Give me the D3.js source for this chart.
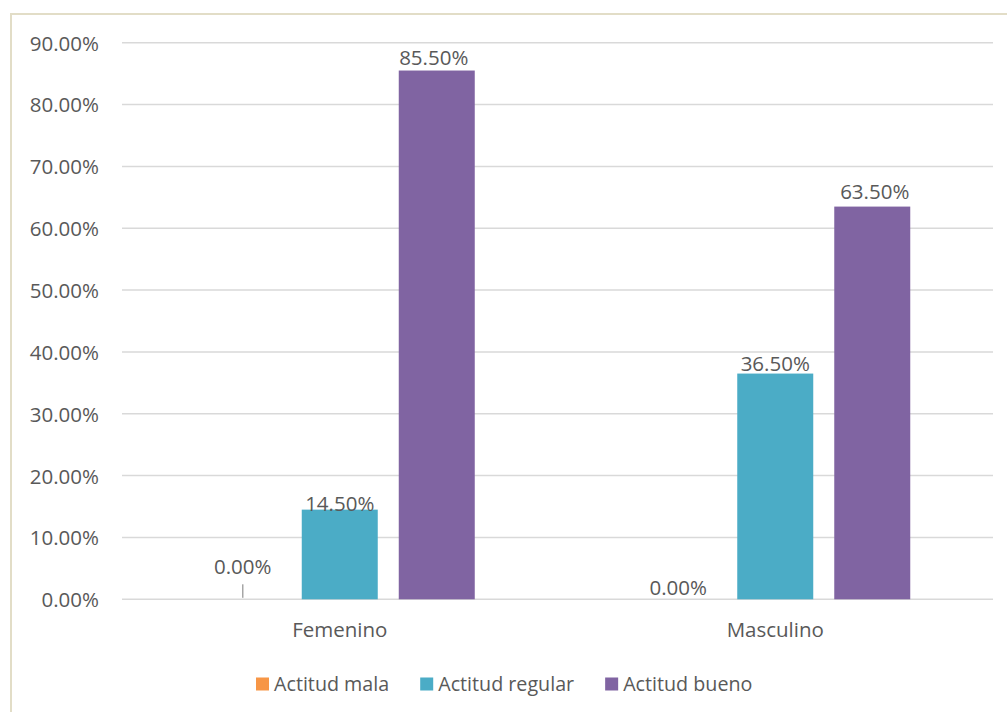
<!DOCTYPE html>
<html>
<head>
<meta charset="utf-8">
<script src="https://cdn.jsdelivr.net/npm/d3@7"></script>
<style>
  html, body { margin: 0; padding: 0; background: #ffffff; }
  svg { display: block; }
  text { font-family: "Open Sans", Lato, sans-serif; fill: #595959; }
</style>
</head>
<body>
<svg id="chart" width="1007" height="712"></svg>
<script>
// ---- data ----
const categories = ["Femenino", "Masculino"];
const seriesNames = ["Actitud mala", "Actitud regular", "Actitud bueno"];
const actitudMala = [0.0, 0.0];
const actitudRegular = [0.145, 0.365];
const actitudBueno = [0.855, 0.635];
const yTicks = [0, 0.1, 0.2, 0.3, 0.4, 0.5, 0.6, 0.7, 0.8, 0.9];
const seriesColors = ["#F79646", "#4BACC6", "#8064A2"];

const seriesValues = [actitudMala, actitudRegular, actitudBueno];

// ---- layout ----
const W = 1007, H = 712;
const plotLeft = 122, plotRight = 993, plotTop = 42.7, plotBottom = 599.3;
const fontSize = 20.5;
const legendFontSize = 19.7;
const fmt = d3.format(".2%");

const svg = d3.select("#chart");

// chart border
svg.append("rect")
  .attr("x", 11).attr("y", 14)
  .attr("width", W).attr("height", H)
  .attr("fill", "#ffffff")
  .attr("stroke", "#e2ddc7").attr("stroke-width", 2);

const y = d3.scaleLinear().domain([0, 0.9]).range([plotBottom, plotTop]);
const x0 = d3.scaleBand().domain(categories).range([plotLeft, plotRight]).padding(0);
const x1 = d3.scaleBand().domain(seriesNames).range([0, x0.bandwidth()])
  .paddingInner(0.2165).paddingOuter(0.853);

// gridlines
svg.append("g").selectAll("line").data(yTicks).join("line")
  .attr("x1", plotLeft).attr("x2", plotRight)
  .attr("y1", d => y(d)).attr("y2", d => y(d))
  .attr("stroke", "#d9d9d9").attr("stroke-width", 1.5);

// y axis labels
const yAxis = d3.axisLeft(y).tickValues(yTicks).tickFormat(fmt).tickSize(0).tickPadding(0);
const gy = svg.append("g").attr("transform", "translate(99,0)").call(yAxis);
gy.select(".domain").remove();
gy.selectAll("text")
  .attr("font-size", fontSize)
  .attr("font-family", "'Open Sans', Lato, sans-serif")
  .attr("fill", "#595959")
  .attr("dy", "0.36em");

// bars
const flat = [];
seriesNames.forEach((s, si) => {
  categories.forEach((c, ci) => {
    flat.push({ series: s, si, cat: c, ci, value: seriesValues[si][ci] });
  });
});

svg.append("g").selectAll("rect").data(flat).join("rect")
  .attr("x", d => x0(d.cat) + x1(d.series))
  .attr("y", d => y(d.value))
  .attr("width", x1.bandwidth())
  .attr("height", d => y(0) - y(d.value))
  .attr("fill", d => seriesColors[d.si]);

// leader line for the zero label in Femenino
const fz = flat.find(d => d.si === 0 && d.ci === 0);
svg.append("line")
  .attr("x1", x0(fz.cat) + x1(fz.series) + x1.bandwidth() / 2)
  .attr("x2", x0(fz.cat) + x1(fz.series) + x1.bandwidth() / 2)
  .attr("y1", y(0) - 15).attr("y2", y(0) - 1.5)
  .attr("stroke", "#a6a6a6").attr("stroke-width", 1.5);

// label nudges (baseline offset from bar top), as placed in the original
const labelDy = [[-25, -4], [1.5, -3], [-6, -8]];
const labelDx = [[0, 0], [0, 0], [-3, 2.5]];

svg.append("g").selectAll("text").data(flat).join("text")
  .attr("x", d => x0(d.cat) + x1(d.series) + x1.bandwidth() / 2 + labelDx[d.si][d.ci])
  .attr("y", d => y(d.value) + labelDy[d.si][d.ci])
  .attr("text-anchor", "middle")
  .attr("font-size", fontSize)
  .attr("fill", "#404040")
  .text(d => fmt(d.value));

// category labels
svg.append("g").selectAll("text").data(categories).join("text")
  .attr("x", d => x0(d) + x0.bandwidth() / 2)
  .attr("y", 637)
  .attr("text-anchor", "middle")
  .attr("font-size", fontSize)
  .text(d => d);

// legend
const legend = svg.append("g");
let lx = 256;
seriesNames.forEach((s, i) => {
  legend.append("rect")
    .attr("x", lx).attr("y", 677.5)
    .attr("width", 13).attr("height", 13)
    .attr("fill", seriesColors[i]);
  const t = legend.append("text")
    .attr("x", lx + 18).attr("y", 691)
    .attr("font-size", legendFontSize)
    .text(s);
  lx += 18 + t.node().getComputedTextLength() + 31;
});
</script>
</body>
</html>
